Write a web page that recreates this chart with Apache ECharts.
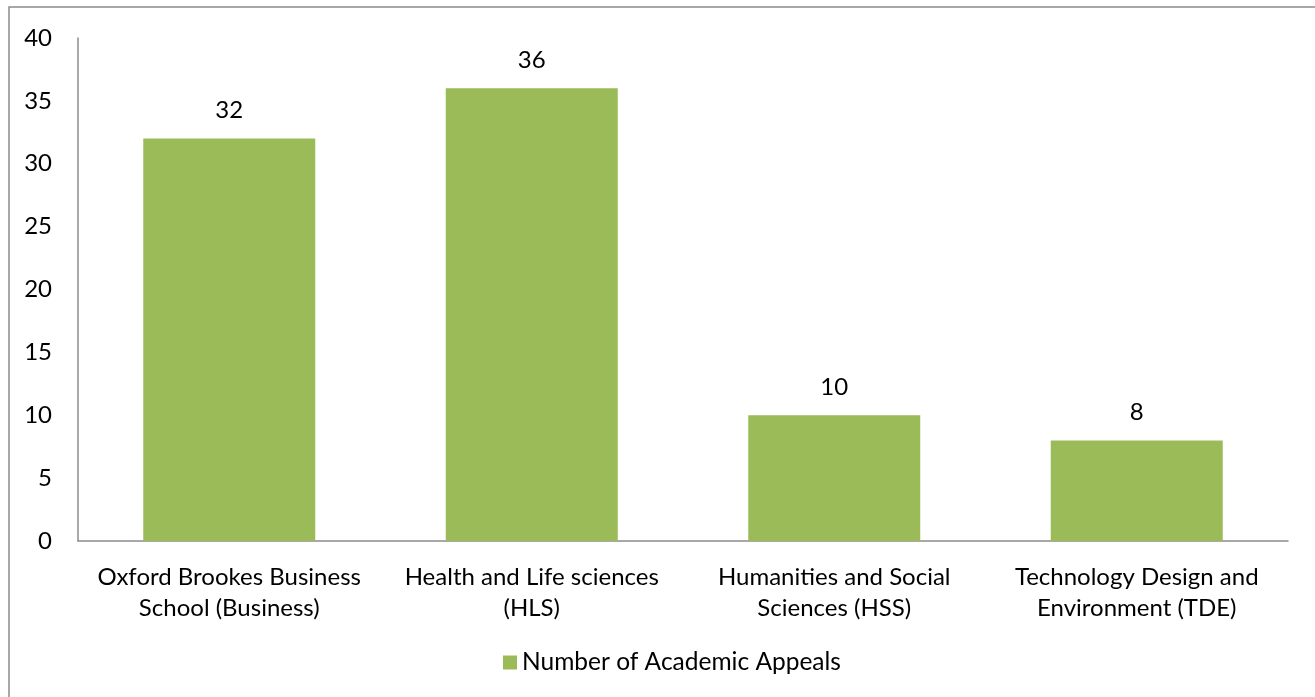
<!DOCTYPE html>
<html>
<head>
<meta charset="utf-8">
<script src="https://cdn.jsdelivr.net/npm/echarts@6/dist/echarts.min.js"></script>
<style>
html,body{margin:0;padding:0;background:#fff;}
#chart{width:1315px;height:697px;}
</style>
</head>
<body>
<div id="chart"></div>
<script>
var categories = ["Oxford Brookes Business\nSchool (Business)", "Health and Life sciences\n(HLS)", "Humanities and Social\nSciences (HSS)", "Technology Design and\nEnvironment (TDE)"];
var appeals = [32, 36, 10, 8];
var seriesName = "Number of Academic Appeals";

var FONT = "Lato, 'Open Sans', sans-serif";
var chart = echarts.init(document.getElementById('chart'));
chart.setOption({
  animation: false,
  backgroundColor: '#fff',
  graphic: [{
    type: 'rect',
    shape: {x: 9, y: 7, width: 1320, height: 700},
    style: {fill: 'none', stroke: '#8c8c8c', lineWidth: 1.5},
    silent: true
  }],
  grid: {left: 78, top: 38, right: 27, bottom: 156, containLabel: false},
  legend: {
    data: [seriesName],
    bottom: 17,
    left: 498,
    icon: 'rect',
    itemWidth: 14,
    itemHeight: 14,
    itemGap: 8,
    textStyle: {fontFamily: FONT, fontSize: 24.5, color: '#000'}
  },
  xAxis: {
    type: 'category',
    data: categories,
    axisLine: {lineStyle: {color: '#8c8c8c', width: 1.5}},
    axisTick: {show: false},
    axisLabel: {fontFamily: FONT, fontSize: 24, color: '#000', lineHeight: 31, margin: 21, interval: 0}
  },
  yAxis: {
    type: 'value',
    min: 0, max: 40, interval: 5,
    axisLine: {show: true, lineStyle: {color: '#8c8c8c', width: 1.5}},
    axisTick: {show: false},
    splitLine: {show: false},
    axisLabel: {fontFamily: FONT, fontSize: 24, color: '#000', margin: 26}
  },
  series: [{
    name: seriesName,
    type: 'bar',
    data: appeals,
    barWidth: 172,
    itemStyle: {color: '#9BBB59'},
    label: {show: true, position: 'top', distance: 16, fontFamily: FONT, fontSize: 24, color: '#000'}
  }]
});
</script>
</body>
</html>
